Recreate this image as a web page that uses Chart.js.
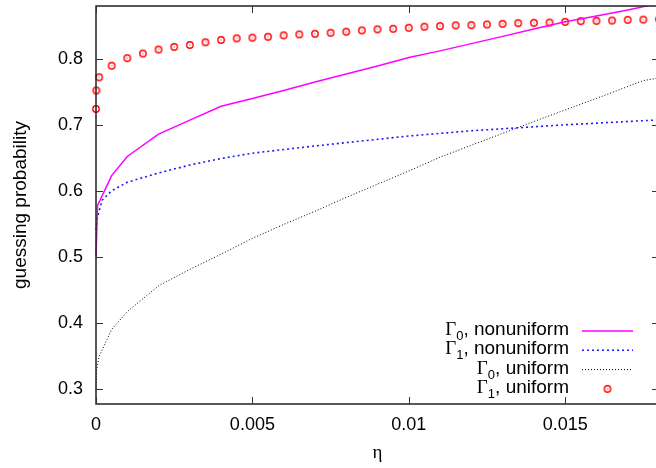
<!DOCTYPE html>
<html>
<head>
<meta charset="utf-8">
<script src="https://cdn.jsdelivr.net/npm/chart.js@4/dist/chart.umd.min.js"></script>
<style>
  html, body { margin: 0; padding: 0; background: #ffffff; overflow: hidden; }
  #wrap { width: 664px; height: 468px; position: relative; }
</style>
</head>
<body>
<div id="wrap"><canvas id="chart"></canvas></div>
<script>
// Gamma_0, nonuniform (magenta solid)
const g0NonX = [0, 0.00005, 0.0005, 0.001, 0.002, 0.003, 0.004, 0.005, 0.006, 0.007, 0.008, 0.009, 0.010, 0.011, 0.012, 0.013, 0.014, 0.015, 0.016, 0.017, 0.018];
const g0NonY = [0.500, 0.578, 0.623, 0.652, 0.686, 0.707, 0.728, 0.740, 0.752, 0.765, 0.777, 0.789, 0.802, 0.812, 0.823, 0.834, 0.845, 0.856, 0.865, 0.874, 0.884];

// Gamma_1, nonuniform (blue dotted)
const g1NonX = [0, 0.00005, 0.0002, 0.0005, 0.001, 0.0015, 0.002, 0.003, 0.004, 0.005, 0.006, 0.007, 0.008, 0.009, 0.010, 0.011, 0.012, 0.013, 0.014, 0.015, 0.016, 0.017, 0.018];
const g1NonY = [0.541, 0.561, 0.586, 0.600, 0.613, 0.620, 0.627, 0.639, 0.649, 0.657, 0.6625, 0.668, 0.673, 0.678, 0.683, 0.687, 0.691, 0.694, 0.697, 0.700, 0.7025, 0.705, 0.7075];

// Gamma_0, uniform (black dotted)
const g0UniX = [0, 0.00002, 0.0001, 0.0005, 0.001, 0.002, 0.003, 0.004, 0.005, 0.006, 0.007, 0.008, 0.009, 0.010, 0.011, 0.012, 0.013, 0.014, 0.015, 0.016, 0.017, 0.0175, 0.018];
const g0UniY = [0.300, 0.329, 0.349, 0.390, 0.417, 0.456, 0.481, 0.504, 0.528, 0.549, 0.569, 0.590, 0.610, 0.630, 0.651, 0.669, 0.687, 0.705, 0.7225, 0.740, 0.758, 0.767, 0.771];

// Gamma_1, uniform (red circles)
const g1UniX = [0, 0.00001, 0.0001,
  0.0005, 0.001, 0.0015, 0.002, 0.0025, 0.003, 0.0035, 0.004, 0.0045, 0.005,
  0.0055, 0.006, 0.0065, 0.007, 0.0075, 0.008, 0.0085, 0.009, 0.0095, 0.010,
  0.0105, 0.011, 0.0115, 0.012, 0.0125, 0.013, 0.0135, 0.014, 0.0145, 0.015,
  0.0155, 0.016, 0.0165, 0.017, 0.0175, 0.018];
const g1UniY = [0.724, 0.752, 0.772,
  0.7895, 0.801, 0.808, 0.814, 0.818, 0.821, 0.825, 0.8285, 0.831, 0.832,
  0.8334, 0.8355, 0.837, 0.8379, 0.8394, 0.841, 0.843, 0.8446, 0.8455, 0.847,
  0.8486, 0.8496, 0.8507, 0.851, 0.852, 0.853, 0.854, 0.8546, 0.855, 0.856,
  0.857, 0.8575, 0.858, 0.859, 0.8594, 0.860];

const xTicks = [0, 0.005, 0.01, 0.015];
const yTicks = [0.3, 0.4, 0.5, 0.6, 0.7, 0.8];

const legendSubs = ['0', '1', '0', '1'];
const legendTexts = [', nonuniform', ', nonuniform', ', uniform', ', uniform'];

const SANS = '"Liberation Sans", Arial, sans-serif';
const SERIF = '"Liberation Serif", "DejaVu Serif", serif';

function toPoints(xs, ys) {
  return xs.map((x, i) => ({ x: x, y: ys[i] }));
}

// gnuplot style open circle with a dot in the middle
const circleImg = document.createElement('canvas');
circleImg.width = 10;
circleImg.height = 10;
(function () {
  const c = circleImg.getContext('2d');
  c.strokeStyle = '#ff0000';
  c.lineWidth = 1.4;
  c.beginPath();
  c.arc(5, 5, 3.2, 0, Math.PI * 2);
  c.stroke();
  c.fillStyle = '#ff0000';
  c.fillRect(4.5, 4.5, 1, 1);
})();

const lineStyles = [
  { color: '#ff00ff', width: 1.5, dash: [] },
  { color: '#1a1aff', width: 1.6, dash: [2, 3] },
  { color: '#000000', width: 1, dash: [1, 2] }
];

// frame, inward ticks and the legend
const gnuplotFrame = {
  id: 'gnuplotFrame',
  afterDraw(chart) {
    const { ctx, chartArea: a, scales } = chart;
    ctx.save();
    ctx.strokeStyle = '#222222';
    ctx.lineWidth = 1.5;
    ctx.strokeRect(a.left, a.top, a.right - a.left, a.bottom - a.top);

    ctx.lineWidth = 1;
    ctx.strokeStyle = '#333333';
    const tl = 7;
    ctx.beginPath();
    xTicks.forEach(v => {
      const px = Math.round(scales.x.getPixelForValue(v)) + 0.5;
      ctx.moveTo(px, a.bottom); ctx.lineTo(px, a.bottom - tl);
      ctx.moveTo(px, a.top); ctx.lineTo(px, a.top + tl);
    });
    yTicks.forEach(v => {
      const py = Math.round(scales.y.getPixelForValue(v)) + 0.5;
      ctx.moveTo(a.left, py); ctx.lineTo(a.left + tl, py);
      ctx.moveTo(a.right, py); ctx.lineTo(a.right - tl, py);
    });
    ctx.stroke();

    // legend
    const textRight = 569;
    const sampleL = 582, sampleR = 633;
    legendTexts.forEach((txt, i) => {
      const base = 335 + i * 19.3;
      ctx.fillStyle = '#000000';
      ctx.textBaseline = 'alphabetic';
      ctx.textAlign = 'left';
      ctx.font = '19px ' + SANS;
      const wTxt = ctx.measureText(txt).width;
      ctx.font = '13px ' + SANS;
      const wSub = ctx.measureText(legendSubs[i]).width;
      ctx.font = '19px ' + SERIF;
      const wG = ctx.measureText('Γ').width;
      let x = textRight - wTxt - wSub - wG;
      ctx.fillText('Γ', x, base);
      x += wG;
      ctx.font = '13px ' + SANS;
      ctx.fillText(legendSubs[i], x, base + 5);
      x += wSub;
      ctx.font = '19px ' + SANS;
      ctx.fillText(txt, x, base);

      const sy = base - 4;
      if (i < 3) {
        const st = lineStyles[i];
        ctx.strokeStyle = st.color;
        ctx.lineWidth = st.width;
        ctx.setLineDash(st.dash);
        ctx.beginPath();
        ctx.moveTo(sampleL, sy);
        ctx.lineTo(sampleR, sy);
        ctx.stroke();
        ctx.setLineDash([]);
      } else {
        ctx.drawImage(circleImg, (sampleL + sampleR) / 2 - 5, sy - 5);
      }
    });
    ctx.restore();
  }
};

const lineClip = { left: 2, top: 0, right: 0, bottom: 0 };

new Chart(document.getElementById('chart'), {
  type: 'scatter',
  data: {
    datasets: [
      {
        label: 'Γ0, nonuniform',
        data: toPoints(g0NonX, g0NonY),
        showLine: true,
        borderColor: lineStyles[0].color,
        borderWidth: lineStyles[0].width,
        pointRadius: 0,
        tension: 0,
        clip: lineClip
      },
      {
        label: 'Γ1, nonuniform',
        data: toPoints(g1NonX, g1NonY),
        showLine: true,
        borderColor: lineStyles[1].color,
        borderWidth: lineStyles[1].width,
        borderDash: lineStyles[1].dash,
        pointRadius: 0,
        tension: 0,
        clip: lineClip
      },
      {
        label: 'Γ0, uniform',
        data: toPoints(g0UniX, g0UniY),
        showLine: true,
        borderColor: lineStyles[2].color,
        borderWidth: lineStyles[2].width,
        borderDash: lineStyles[2].dash,
        pointRadius: 0,
        tension: 0,
        clip: lineClip
      },
      {
        label: 'Γ1, uniform',
        data: toPoints(g1UniX, g1UniY),
        showLine: false,
        pointStyle: circleImg,
        pointRadius: 4,
        clip: false
      }
    ]
  },
  options: {
    responsive: true,
    maintainAspectRatio: false,
    animation: false,
    layout: { padding: { top: 6, right: 4, left: 0, bottom: 0 } },
    plugins: {
      legend: { display: false },
      tooltip: { enabled: false }
    },
    scales: {
      x: {
        type: 'linear',
        min: 0,
        max: 0.018,
        afterBuildTicks: s => { s.ticks = xTicks.map(v => ({ value: v })); },
        afterFit: s => { s.height = 64; s.paddingLeft = 0; s.paddingRight = 0; },
        grid: { display: false, drawTicks: false },
        border: { display: false },
        ticks: {
          color: '#000000',
          padding: 10,
          maxRotation: 0,
          font: { family: SANS, size: 18 },
          callback: v => String(v)
        },
        title: {
          display: true,
          text: 'η',
          color: '#000000',
          font: { family: SERIF, size: 19 },
          padding: { top: 0, bottom: 4 }
        }
      },
      y: {
        type: 'linear',
        min: 0.277,
        max: 0.88,
        afterBuildTicks: s => { s.ticks = yTicks.map(v => ({ value: v })); },
        afterFit: s => { s.width = 96; s.paddingTop = 0; s.paddingBottom = 0; },
        grid: { display: false, drawTicks: false },
        border: { display: false },
        ticks: {
          color: '#000000',
          padding: 13,
          font: { family: SANS, size: 18 },
          callback: v => String(v)
        },
        title: {
          display: true,
          text: 'guessing probability',
          color: '#000000',
          font: { family: SANS, size: 19 },
          padding: { top: 9, bottom: 0 }
        }
      }
    }
  },
  plugins: [gnuplotFrame]
});
</script>
</body>
</html>
